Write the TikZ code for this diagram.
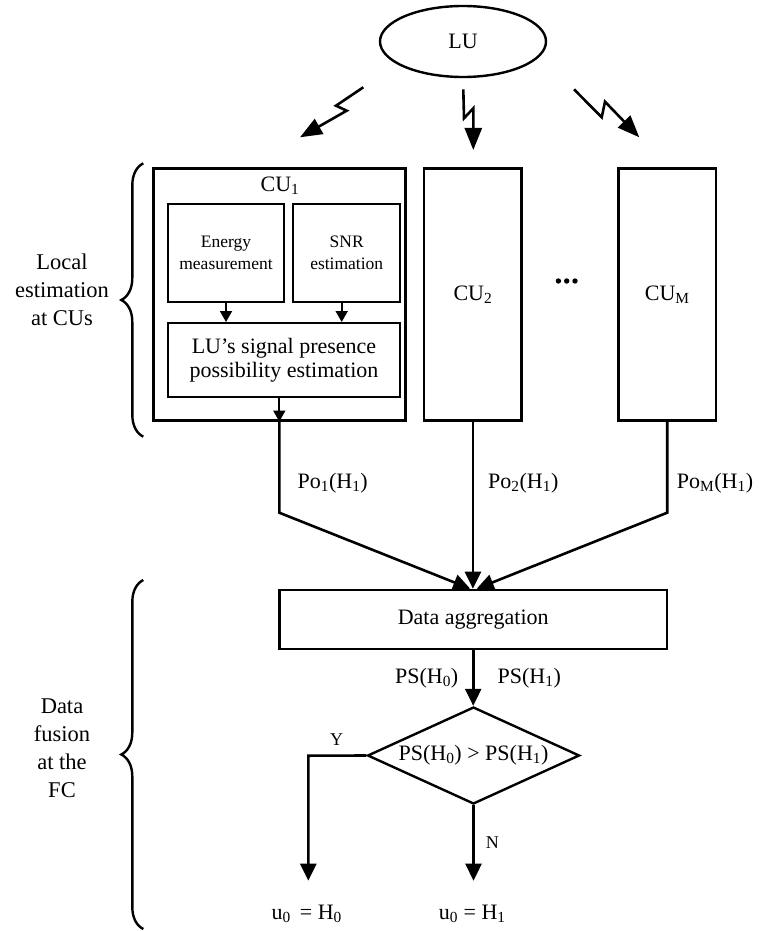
\documentclass[tikz,border=0pt]{standalone}
\usepackage{fontspec}
\setmainfont{Liberation Serif}
\usetikzlibrary{arrows.meta,shapes.geometric,decorations.pathreplacing,calc}

\begin{document}
\begin{tikzpicture}[x=1pt,y=-1pt,
  every node/.style={inner sep=0pt},
  txt/.style={font=\fontsize{22}{24}\selectfont, align=center},
  sidetxt/.style={font=\fontsize{22.5}{28}\selectfont, align=center},
  smalltxt/.style={font=\fontsize{17.5}{22}\selectfont, align=center},
  yntxt/.style={font=\fontsize{18}{20}\selectfont},
  cubox/.style={draw, line width=2.6pt},
  inbox/.style={draw, line width=2pt},
  flow/.style={line width=2.6pt},
  bigarrow/.style={flow, -{Triangle[length=17pt,width=16pt]}},
  smallarrow/.style={line width=1.8pt, -{Triangle[length=11pt,width=12pt]}},
  bolt/.style={line width=2.6pt, line join=miter, -{Triangle[length=22pt,width=17pt]}},
  sidebrace/.style={decorate, decoration={brace, amplitude=22pt}, line width=2.4pt},
]
\useasboundingbox (0,0) rectangle (758,931);

% licensed user
\node[ellipse, draw, line width=2.4pt, minimum width=166pt, minimum height=71pt, txt] (lu) at (463,41.5) {LU};

% radio links towards the CUs
\coordinate (bl1) at (363.3,87.3);  \coordinate (bl2) at (300,137.3);
\coordinate (bm1) at (463.3,89.3);  \coordinate (bm2) at (473.3,150);
\coordinate (br1) at (574,89.3);    \coordinate (br2) at (639.3,137.3);
\draw[bolt] (bl1) -- (336,105.7) -- (346.7,110.7) -- (bl2);
\draw[bolt] (bm1) -- (464,118.3) -- (473.3,108.3) -- (bm2);
\draw[bolt] (br1) -- (601.7,117.3) -- (605,101.7) -- (br2);

% cognitive users
\node[cubox, minimum width=252.4pt, minimum height=251.5pt] (cu1) at (279.5,294.5) {};
\node[cubox, minimum width=97.7pt, minimum height=251.5pt, txt] (cu2) at (472.9,294.5) {CU\textsubscript{2}};
\node[cubox, minimum width=97.7pt, minimum height=251.5pt, txt] (cuM) at (667.2,294.5) {CU\textsubscript{M}};
\node[txt] (cu1lbl) at (280,186) {CU\textsubscript{1}};
\foreach \dx in {-8.3,0,8.3} \fill (566.7+\dx,281) circle (2.7pt);

% inside CU1
\node[inbox, minimum width=116pt, minimum height=98pt, smalltxt] (en) at (226,253) {Energy\\measurement};
\node[inbox, minimum width=106.7pt, minimum height=98pt, smalltxt] (snr) at (346.7,253) {SNR\\estimation};
\node[inbox, minimum width=232pt, minimum height=74pt, txt] (lusig) at (284,360) {LU’s signal presence\\possibility estimation};

\coordinate (snrx) at (341.7,302);
\coordinate (lsx) at (279.3,397);
\draw[smallarrow] (en.south) -- (en.south |- lusig.north);
\draw[smallarrow] (snrx) -- (snrx |- lusig.north);
\draw[smallarrow] (lsx) -- (lsx |- cu1.south);

% fusion centre
\node[cubox, minimum width=387.7pt, minimum height=59pt, txt] (agg) at (473.2,619.5) {Data aggregation};

\coordinate (k1) at (lsx |- 0,512.7);
\coordinate (kM) at (cuM.south |- 0,512.7);
\coordinate (in1) at ($(agg.north)+(-3,0)$);
\coordinate (inM) at ($(agg.north)+(3.5,0)$);
\draw[bigarrow] (lsx |- cu1.south) -- (k1) -- (in1);
\draw[bigarrow] (cu2.south) -- (cu2.south |- agg.north);
\draw[bigarrow] (cuM.south) -- (kM) -- (inM);

\node[txt] (po1) at (332.7,483.3) {Po\textsubscript{1}(H\textsubscript{1})};
\node[txt] (po2) at (523.3,483.3) {Po\textsubscript{2}(H\textsubscript{1})};
\node[txt] (poM) at (715,483.3) {Po\textsubscript{M}(H\textsubscript{1})};

% decision
\node[diamond, draw, line width=2.4pt, aspect=2.19, minimum width=212pt, minimum height=97pt, txt] (dec) at (473.5,755.5) {\makebox[0pt]{PS(H\textsubscript{0}) > PS(H\textsubscript{1})}};
\draw[bigarrow] (agg.south) -- (agg.south |- dec.north);
\node[txt] (ps0) at (426.7,678.3) {PS(H\textsubscript{0})};
\node[txt] (ps1) at (529.3,678.3) {PS(H\textsubscript{1})};

\coordinate (yc) at (308.3,755.7);
\coordinate (yend) at (308.3,880.7);
\coordinate (nend) at (dec.south |- yend);
\draw[bigarrow] (dec.west) -- (yc) -- (yend);
\draw[bigarrow] (dec.south) -- (nend);
\node[yntxt] (ylbl) at (336.7,740) {Y};
\node[yntxt] (nlbl) at (492.3,842.7) {N};

\node[txt] (out0) at (306.7,914) {u\textsubscript{0}\, = H\textsubscript{0}};
\node[txt] (out1) at (472.3,914) {u\textsubscript{0} = H\textsubscript{1}};

% stage labels
\draw[sidebrace] (143.3,436.7) -- (143.3,163.3);
\draw[sidebrace] (143.3,929) -- (143.3,580);
\node[sidetxt] (stage1) at (62,290) {Local\\estimation\\at CUs};
\node[sidetxt] (stage2) at (62,748) {Data\\fusion\\at the\\FC};
\end{tikzpicture}
\end{document}
